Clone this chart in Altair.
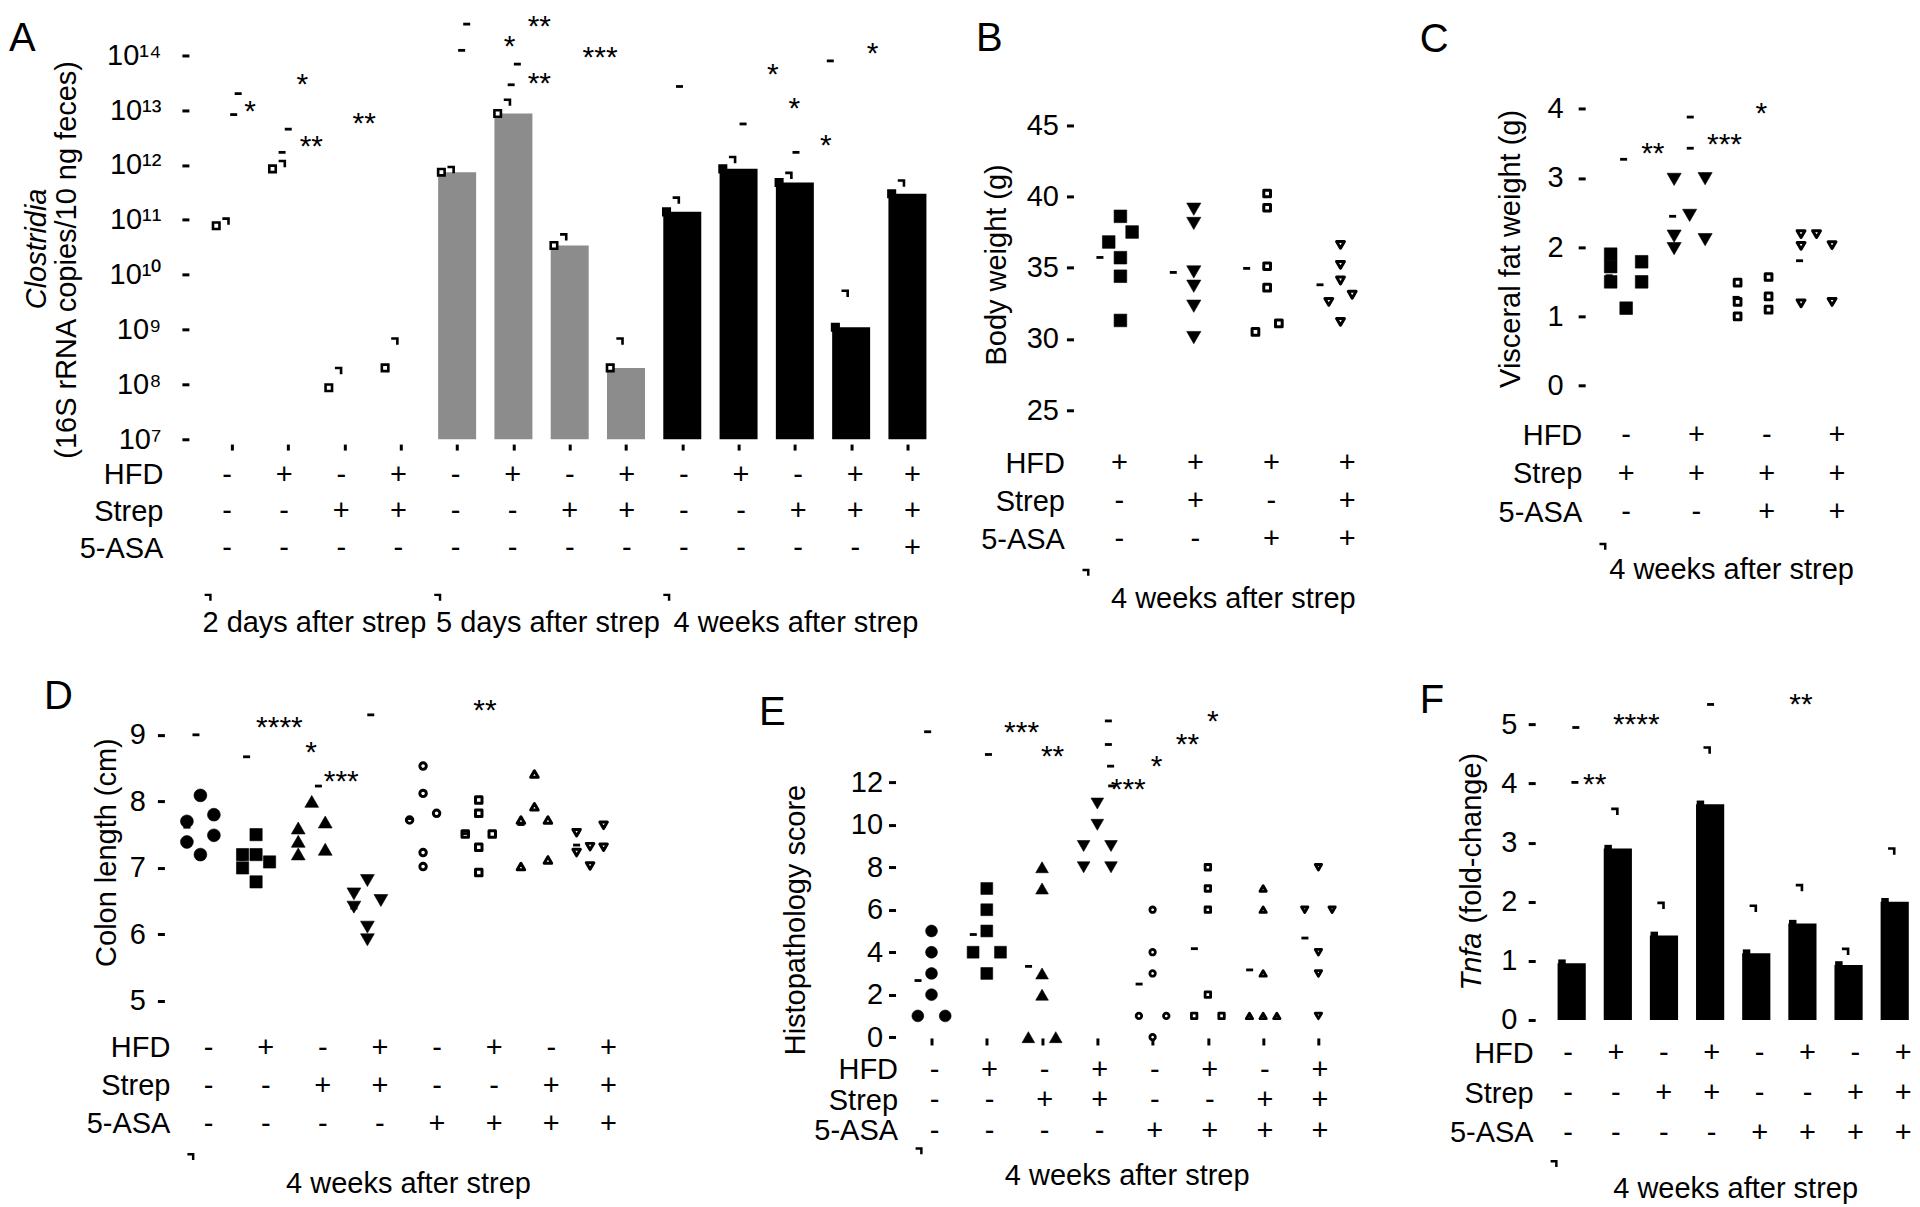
import altair as alt
import numpy as np
import pandas as pd

FONT = "Liberation Sans"
FS = 29
STAR_FS = 30
LETTER_FS = 40

DASH = "M-1,-0.4L1,-0.4L1,0.4L-1,0.4Z"
CAP = "M-1,-1L1,-1L1,1L0.3,1L0.3,-0.3L-1,-0.3Z"
ROW_EXPR = "['HFD','Strep','5-ASA'][datum.value]"

# ======================= DATA =======================
A_HFD = ["-", "+", "-", "+", "-", "+", "-", "+", "-", "+", "-", "+", "+"]
A_STREP = ["-", "-", "+", "+", "-", "-", "+", "+", "-", "-", "+", "+", "+"]
A_ASA = ["-", "-", "-", "-", "-", "-", "-", "-", "-", "-", "-", "-", "+"]
A_PERIOD = ["2 days after strep"] * 4 + ["5 days after strep"] * 4 + ["4 weeks after strep"] * 5
A_CAPTIONS = ["2 days after strep", "5 days after strep", "4 weeks after strep"]
A_MEAN = [7.8e10, 8.5e11, 8.7e7, 2.0e8, 7.4e11, 8.7e12, 3.4e10, 2.0e8, 1.4e11, 8.5e11, 4.8e11, 1.1e9, 3.0e11]
A_UPPER = [9.5e10, 1.07e12, 1.8e8, 6.2e8, 8.3e11, 1.4e13, 4.9e10, 6.2e8, 2.3e11, 1.26e12, 6.5e11, 4.6e9, 4.7e11]
A_DASH_X = [0.03, 0.11, 0.89, 1.00, 4.08, 4.17, 4.96, 5.07, 7.95, 9.08, 10.02, 10.63]
A_DASH_Y = [8.3e12, 2.0e13, 1.7e12, 4.5e12, 1.23e14, 3.7e14, 2.9e13, 6.9e13, 2.7e13, 5.6e12, 1.7e12, 7.9e13]
A_STAR_T = ["*", "*", "**", "**", "**", "*", "**", "***", "*", "*", "*", "*"]
A_STAR_X = [0.32, 1.25, 1.41, 2.35, 5.46, 4.93, 5.46, 6.54, 9.61, 9.99, 10.55, 11.38]
A_STAR_Y = [1.3e13, 4.0e13, 3.0e12, 7.8e12, 4.5e14, 1.95e14, 4.2e13, 1.23e14, 6.2e13, 1.45e13, 3.1e12, 1.5e14]

B_HFD = ["+", "+", "+", "+"]
B_STREP = ["-", "+", "-", "+"]
B_ASA = ["-", "-", "+", "+"]
B_VALUES = [[38.6, 37.5, 36.8, 35.7, 34.4, 31.3],
            [39.1, 38.1, 34.7, 33.7, 32.3, 30.1],
            [40.2, 39.2, 35.1, 33.6, 30.5, 31.1],
            [36.6, 35.2, 34.1, 33.1, 32.6, 31.2]]
B_LANES = [[0, 1, -1, 0, 0, 0], [0, 0, 0, 0, 0, 0], [0, 0, 0, 0, -1, 1], [0, 0, 0, 1, -1, 0]]

C_HFD = ["-", "+", "-", "+"]
C_STREP = ["+", "+", "+", "+"]
C_ASA = ["-", "-", "+", "+"]
C_VALUES = [[1.90, 1.72, 1.50, 1.79, 1.50, 1.12],
            [2.98, 2.99, 2.46, 2.16, 2.11, 1.98],
            [1.49, 1.21, 1.00, 1.57, 1.29, 1.10],
            [2.19, 2.19, 2.02, 2.03, 1.19, 1.21]]
C_LANES = [[-1, -1, -1, 1, 1, 0], [-1, 1, 0, -1, 1, -1], [-1, -1, -1, 1, 1, 1], [-1, 0, -1, 1, -1, 1]]
C_DASH_X = [-0.04, 1.01, 1.01]
C_DASH_Y = [3.27, 3.88, 3.43]
C_STAR_T = ["**", "***", "*"]
C_STAR_X = [0.42, 1.55, 2.13]
C_STAR_Y = [3.46, 3.59, 4.04]

HFD8 = ["-", "+", "-", "+", "-", "+", "-", "+"]
STREP8 = ["-", "-", "+", "+", "-", "-", "+", "+"]
ASA8 = ["-", "-", "-", "-", "+", "+", "+", "+"]

D_VALUES = [[7.70, 8.09, 7.80, 7.49, 7.39, 7.20],
            [7.20, 7.50, 7.20, 7.00, 7.09, 6.79],
            [7.60, 7.40, 7.21, 8.00, 7.69, 7.28],
            [6.61, 6.41, 6.81, 6.51, 6.11, 5.92],
            [8.53, 8.12, 7.72, 7.82, 7.23, 7.02],
            [8.02, 7.82, 7.51, 7.51, 7.31, 6.93],
            [8.41, 7.92, 7.72, 7.72, 7.12, 7.02],
            [7.53, 7.23, 7.32, 7.64, 7.31, 7.03]]
D_LANES = [[-1, 0, 1, 1, -1, 0], [-1, 0, 0, -1, 1, 0], [-1, -1, -1, 0, 1, 1], [-1, -1, 0, 1, 0, 0],
           [0, 0, -1, 1, 0, 0], [0, 0, -1, 1, 0, 0], [0, 0, -1, 1, 1, -1], [-1, -1, 0, 1, 1, 0]]
D_DASH_X = [-0.08, 0.83, 2.12, 3.06]
D_DASH_Y = [9.0, 8.67, 8.23, 9.30]
D_STAR_T = ["****", "*", "***", "**"]
D_STAR_X = [1.42, 1.99, 2.53, 5.11]
D_STAR_Y = [9.22, 8.85, 8.41, 9.48]

E_VALUES = [[5, 4, 3, 2, 1, 1], [7, 6, 5, 4, 4, 3], [8, 7, 3, 2, 0, 0], [11, 10, 9, 9, 8, 8],
            [6, 4, 3, 1, 1, 0], [8, 7, 6, 2, 1, 1], [7, 6, 3, 1, 1, 1], [8, 6, 6, 4, 3, 1]]
E_LANES = [[0, 0, 0, 0, -1, 1], [0, 0, 0, -1, 1, 0], [0, 0, 0, 0, -1, 1], [0, 0, -1, 1, -1, 1],
           [0, 0, 0, -1, 1, 0], [0, 0, 0, 0, -1, 1], [0, 0, 0, -1, 0, 1], [0, -1, 1, 0, 0, 0]]
E_DASH_X = [-0.07, 1.03, 3.20, 3.20, 3.24, 3.26]
E_DASH_Y = [14.38, 13.31, 14.89, 13.78, 12.76, 11.83]
E_STAR_T = ["***", "**", "***", "*", "**", "*"]
E_STAR_X = [1.63, 2.19, 3.56, 4.07, 4.63, 5.09]
E_STAR_Y = [14.72, 13.58, 12.03, 13.11, 14.13, 15.2]

F_MEAN = [0.96, 2.90, 1.43, 3.65, 1.13, 1.63, 0.93, 2.00]
F_UPPER = [None, 3.53, 1.94, 4.57, 1.89, 2.24, 1.16, 2.86]
F_DASH_X = [0.09, 0.07, 3.01]
F_DASH_Y = [4.95, 4.02, 5.34]
F_STAR_T = ["**", "****", "**"]
F_STAR_X = [0.50, 1.40, 4.97]
F_STAR_Y = [4.11, 5.12, 5.46]

# ======================= HELPERS =======================

def lin(domain, rng):
    return alt.Scale(domain=domain, range=rng, nice=False, zero=False)


def value_axis(values, pad, offset=0, label_expr=None, title=None, tx=0, ty=0,
               italic=False, align="center"):
    kw = dict(orient="left", values=values, domain=False, grid=False, ticks=True,
              tickSize=7, tickWidth=3, tickColor="black", labelPadding=pad,
              labelFont=FONT, labelFontSize=FS, labelColor="black", labelOverlap=False,
              offset=offset)
    if label_expr:
        kw["labelExpr"] = label_expr
    if title is None:
        kw["title"] = None
    else:
        kw.update(title=title, titleX=tx, titleY=ty, titleAngle=-90, titleAlign=align,
                  titleBaseline="alphabetic", titleFont=FONT, titleFontSize=FS,
                  titleFontWeight="normal", titleColor="black",
                  titleFontStyle="italic" if italic else "normal")
    return alt.Axis(**kw)


def title_axis(title, tx, ty, italic=False, align="center", offset=0, angle=-90, size=FS):
    return alt.Axis(orient="left", domain=False, grid=False, ticks=False, labels=False,
                    title=title, titleX=tx, titleY=ty, titleAngle=angle, titleAlign=align,
                    titleBaseline="alphabetic", titleFont=FONT, titleFontSize=size,
                    titleFontWeight="normal", titleFontStyle="italic" if italic else "normal",
                    titleColor="black", offset=offset)


def letter_axis(text, tx, ty, offset=0):
    return title_axis(text, tx, ty, align="left", angle=0, size=LETTER_FS, offset=offset)


def dash_layer(xs_, ys_, xvals, yvals, yaxis=None):
    df = pd.DataFrame({"x": xvals, "y": yvals})
    return alt.Chart(df).mark_point(shape=DASH, filled=True, size=49, color="black",
                                    strokeWidth=0, opacity=1).encode(
        x=alt.X("x:Q", scale=xs_, axis=None), y=alt.Y("y:Q", scale=ys_, axis=yaxis))


def star_layer(xs_, ys_, texts, xvals, yvals, yaxis=None):
    df = pd.DataFrame({"x": xvals, "y": yvals, "t": texts})
    return alt.Chart(df).mark_text(font=FONT, fontSize=STAR_FS, align="center",
                                   baseline="middle", dy=8, color="black").encode(
        x=alt.X("x:Q", scale=xs_, axis=None), y=alt.Y("y:Q", scale=ys_, axis=yaxis), text="t:N")


def table_layer(hfd, strep, asa, txr, tyr, pad, captions, cap_row, marks_x, mark_row, offset=0):
    n = len(hfd)
    recs = []
    for i in range(n):
        for r, col in enumerate((hfd, strep, asa)):
            recs.append({"g": i, "r": r, "s": col[i]})
    sdf = pd.DataFrame(recs)
    xs_ = lin([0, n - 1], txr)
    ys_ = lin([0, 2], tyr)
    signs = alt.Chart(sdf).mark_text(font=FONT, fontSize=FS, align="center", baseline="middle",
                                     color="black").encode(
        x=alt.X("g:Q", scale=xs_, axis=None),
        y=alt.Y("r:Q", scale=ys_, axis=alt.Axis(
            orient="left", values=[0, 1, 2], labelExpr=ROW_EXPR, domain=False, ticks=False,
            tickSize=0, grid=False, labelPadding=pad, labelFont=FONT, labelFontSize=FS,
            labelColor="black", labelOverlap=False, title=None, offset=offset)),
        text="s:N")
    cdf = pd.DataFrame({"x": [cx for _, cx in captions],
                        "r": [cap_row] * len(captions),
                        "t": [t for t, _ in captions]})
    cap = alt.Chart(cdf).mark_text(font=FONT, fontSize=FS, align="center", baseline="middle",
                                   color="black").encode(
        x=alt.X("x:Q", scale=xs_, axis=None), y=alt.Y("r:Q", scale=ys_, axis=None), text="t:N")
    mdf = pd.DataFrame({"x": marks_x, "r": [mark_row] * len(marks_x)})
    mk = alt.Chart(mdf).mark_point(shape=CAP, filled=True, size=49, color="black",
                                   strokeWidth=0, opacity=1).encode(
        x=alt.X("x:Q", scale=xs_, axis=None), y=alt.Y("r:Q", scale=ys_, axis=None))
    return alt.layer(signs, cap, mk).resolve_axis(x="independent", y="independent")


def scatter_points(values, lanes, styles, sizes, open_sw, lane_units, xs_, ys_, yaxis, xaxis=None):
    recs = []
    for g, (vals, ls) in enumerate(zip(values, lanes)):
        shape, filled = styles[g]
        for v, l in zip(vals, ls):
            recs.append({"x": g + l * lane_units, "v": v, "shape": shape,
                         "fill": "black" if filled else "white",
                         "size": sizes[(shape, filled)],
                         "sw": 0.6 if filled else open_sw})
    df = pd.DataFrame(recs)
    return alt.Chart(df).mark_point(filled=True, stroke="black", opacity=1,
                                    strokeJoin="round").encode(
        x=alt.X("x:Q", scale=xs_, axis=xaxis),
        y=alt.Y("v:Q", scale=ys_, axis=yaxis),
        shape=alt.Shape("shape:N", scale=None),
        fill=alt.Fill("fill:N", scale=None),
        size=alt.Size("size:Q", scale=None),
        strokeWidth=alt.StrokeWidth("sw:Q", scale=None))


def mean_layer(values, off_units, xs_, ys_, yaxis=None):
    df = pd.DataFrame({"x": [g + off_units for g in range(len(values))],
                       "y": [float(np.mean(v)) for v in values]})
    return alt.Chart(df).mark_point(shape=DASH, filled=True, size=49, color="black",
                                    strokeWidth=0, opacity=1).encode(
        x=alt.X("x:Q", scale=xs_, axis=None), y=alt.Y("y:Q", scale=ys_, axis=yaxis))


def panel(plot, table, w, h):
    return alt.layer(plot, table).resolve_scale(x="independent", y="independent").resolve_axis(
        x="independent", y="independent").properties(width=w, height=h)


STYLE4 = [("square", True), ("triangle-down", True), ("square", False), ("triangle-down", False)]
STYLE8 = [("circle", True), ("square", True), ("triangle-up", True), ("triangle-down", True),
          ("circle", False), ("square", False), ("triangle-up", False), ("triangle-down", False)]
SIZES_BC = {("square", True): 160, ("triangle-down", True): 200,
            ("square", False): 45, ("triangle-down", False): 62}
SIZES_D = {("circle", True): 165, ("square", True): 150, ("triangle-up", True): 190,
           ("triangle-down", True): 190, ("circle", False): 42, ("square", False): 42,
           ("triangle-up", False): 56, ("triangle-down", False): 56}
SIZES_E = {("circle", True): 140, ("square", True): 140, ("triangle-up", True): 160,
           ("triangle-down", True): 160, ("circle", False): 30, ("square", False): 30,
           ("triangle-up", False): 40, ("triangle-down", False): 40}

# column origins (plot-area left edges) : 188.5, 1073, 1585 ; row tops : 12, 684
W1, W2, W3 = 884.5, 512, 327
H1, H2 = 672, 515

# ======================= PANEL A =======================
A_XR, A_YR = [38.1, 723.9], [424, 39.8]
stepA = (A_XR[1] - A_XR[0]) / 12
xsA = lin([0, 12], A_XR)
ysA = alt.Scale(type="log", domain=[1e7, 1e14], range=A_YR, nice=False)
adf = pd.DataFrame({"g": list(range(13)), "mean": A_MEAN, "upper": A_UPPER, "period": A_PERIOD})
adf["xm"] = adf["g"] - 16 / stepA
adf["xc"] = adf["g"] - 6 / stepA
adf["bfill"] = adf["period"].map({"2 days after strep": "white", "5 days after strep": "#8c8c8c",
                                   "4 weeks after strep": "black"})
adf["mfill"] = np.where(adf["period"] == "4 weeks after strep", "black", "white")
SUP = "['10⁷','10⁸','10⁹','10¹⁰','10¹¹','10¹²','10¹³','10¹⁴'][round(log(datum.value)/LN10) - 7]"
A_bars = alt.Chart(adf[adf["period"] != "2 days after strep"]).mark_bar(width=38).encode(
    x=alt.X("g:Q", scale=xsA, axis=None),
    y=alt.Y("mean:Q", scale=ysA, axis=value_axis([10.0 ** k for k in range(7, 15)], 21,
                                                  label_expr=SUP,
                                                  title="(16S rRNA copies/10 ng  feces)",
                                                  tx=-113, ty=244)),
    y2=alt.datum(1e7),
    fill=alt.Fill("bfill:N", scale=None))
A_marks = alt.Chart(adf).mark_point(shape="square", filled=True, size=42, stroke="black",
                                    strokeWidth=2.6, opacity=1).encode(
    x=alt.X("xm:Q", scale=xsA, axis=alt.Axis(orient="bottom", values=list(range(13)), labels=False,
                                              domain=False, grid=False, ticks=True, tickSize=6,
                                              tickWidth=3, tickColor="black", offset=428.8 - H1,
                                              title=None)),
    y=alt.Y("mean:Q", scale=ysA, axis=letter_axis("A", -180.5, 35)),
    fill=alt.Fill("mfill:N", scale=None))
A_caps = alt.Chart(adf).mark_point(shape=CAP, filled=True, size=56, color="black", strokeWidth=0,
                                   opacity=1).encode(
    x=alt.X("xc:Q", scale=xsA, axis=None), y=alt.Y("upper:Q", scale=ysA, axis=None))
A_plot = alt.layer(
    A_bars, A_marks, A_caps,
    dash_layer(xsA, ysA, A_DASH_X, A_DASH_Y),
    star_layer(xsA, ysA, A_STAR_T, A_STAR_X, A_STAR_Y,
               yaxis=title_axis("Clostridia", -143.5, 233, italic=True)),
).resolve_axis(x="independent", y="independent")
# captions sit over their block of groups (slightly off the block centre, as in the figure)
A_caption_x = [float(np.mean([i for i, q in enumerate(A_PERIOD) if q == p])) for p in A_CAPTIONS]
A_caption_x = [A_caption_x[0] + 0.03, A_caption_x[1] + 0.12, A_caption_x[2] - 0.04]
A_table = table_layer(A_HFD, A_STREP, A_ASA, A_XR, [459.4, 533], 26,
                      list(zip(A_CAPTIONS, A_caption_x)), 4.04, [-0.33, 3.69, 7.70], 3.33)
panelA = panel(A_plot, A_table, W1, H1)

# ======================= PANEL B =======================
B_XR, B_YR = [47, 267.2], [395, 109.6]
xsB, ysB = lin([0, 3], B_XR), lin([25, 45], B_YR)
stepB = (B_XR[1] - B_XR[0]) / 3
B_plot = alt.layer(
    scatter_points(B_VALUES, B_LANES, STYLE4, SIZES_BC, 3.0, 11.7 / stepB, xsB, ysB,
                   value_axis([25, 30, 35, 40, 45], 8, title="Body weight (g)", tx=-68, ty=249)),
    mean_layer(B_VALUES, -20.5 / stepB, xsB, ysB, yaxis=letter_axis("B", -98, 35)),
).resolve_axis(x="independent", y="independent")
B_table = table_layer(B_HFD, B_STREP, B_ASA, [46, 274], [448, 524], 9,
                      [("4 weeks after strep", 1.5)], 3.58, [-0.44], 2.87)
panelB = panel(B_plot, B_table, W2, H1)

# ======================= PANEL C =======================
C_XR, C_YR = [41, 231.5], [370.4, 93.3]
xsC, ysC = lin([0, 3], C_XR), lin([0, 4], C_YR)
stepC = (C_XR[1] - C_XR[0]) / 3
C_plot = alt.layer(
    scatter_points(C_VALUES, C_LANES, STYLE4, SIZES_BC, 3.0, 15.5 / stepC, xsC, ysC,
                   value_axis([0, 1, 2, 3, 4], 15, title="Visceral fat weight (g)",
                              tx=-65.5, ty=233)),
    mean_layer(C_VALUES, -17 / stepC, xsC, ysC, yaxis=letter_axis("C", -166, 36)),
    dash_layer(xsC, ysC, C_DASH_X, C_DASH_Y),
    star_layer(xsC, ysC, C_STAR_T, C_STAR_X, C_STAR_Y),
).resolve_axis(x="independent", y="independent")
C_table = table_layer(C_HFD, C_STREP, C_ASA, [41, 252], [419.8, 497], 3.4,
                      [("4 weeks after strep", 1.5)], 3.50, [-0.33], 2.88)
panelC = panel(C_plot, C_table, W3, H1)

# ======================= PANEL D (origin x 188.5) =======================
D_XR, D_YR = [11.5, 401.4], [314, 47.7]
xsD, ysD = lin([0, 7], D_XR), lin([5, 9], D_YR)
stepD = (D_XR[1] - D_XR[0]) / 7
D_plot = alt.layer(
    scatter_points(D_VALUES, D_LANES, STYLE8, SIZES_D, 3.0, 13.5 / stepD, xsD, ysD,
                   value_axis([5, 6, 7, 8, 9], 12, offset=24.5, title="Colon length (cm)",
                              tx=-48.5, ty=165)),
    mean_layer(D_VALUES, -13.5 / stepD, xsD, ysD, yaxis=letter_axis("D", -145.5, 21)),
    dash_layer(xsD, ysD, D_DASH_X, D_DASH_Y),
    star_layer(xsD, ysD, D_STAR_T, D_STAR_X, D_STAR_Y),
).resolve_axis(x="independent", y="independent")
D_table = table_layer(HFD8, STREP8, ASA8, [19.7, 419.7], [361, 437], 19,
                      [("4 weeks after strep", 3.5)], 3.57, [-0.31], 2.86)
panelD = panel(D_plot, D_table, W1, H2)

# ======================= PANEL E (origin x 1073, axis at 895) =======================
E_OFF = 178
E_XR, E_YR = [-142, 245.1], [350.2, 95.2]
xsE, ysE = lin([0, 7], E_XR), lin([0, 12], E_YR)
stepE = (E_XR[1] - E_XR[0]) / 7
E_plot = alt.layer(
    scatter_points(E_VALUES, E_LANES, STYLE8, SIZES_E, 2.8, 13.7 / stepE, xsE, ysE,
                   value_axis([0, 2, 4, 6, 8, 10, 12], 6, offset=E_OFF,
                              title="Histopathology score", tx=-91.5, ty=232.5),
                   xaxis=alt.Axis(orient="bottom", values=list(range(8)), labels=False,
                                  domain=False, grid=False, ticks=True, tickSize=7, tickWidth=3,
                                  tickColor="black", offset=351 - H2, title=None)),
    mean_layer(E_VALUES, -13.5 / stepE, xsE, ysE, yaxis=letter_axis("E", -137, 37, offset=E_OFF)),
    dash_layer(xsE, ysE, E_DASH_X, E_DASH_Y),
    star_layer(xsE, ysE, E_STAR_T, E_STAR_X, E_STAR_Y),
).resolve_axis(x="independent", y="independent")
E_table = table_layer(HFD8, STREP8, ASA8, [-139, 246.6], [382.8, 444], -2,
                      [("4 weeks after strep", 3.5)], 3.49, [-0.28], 2.65, offset=E_OFF)
panelE = panel(E_plot, E_table, W2, H2)

# ======================= PANEL F (origin x 1585, axis at 1535) =======================
F_OFF = 50
F_XR, F_YR = [-18.5, 314.7], [332.9, 37.4]
xsF, ysF = lin([0, 7], F_XR), lin([0, 5], F_YR)
stepF = (F_XR[1] - F_XR[0]) / 7
fdf = pd.DataFrame({"g": list(range(8)), "mean": F_MEAN, "upper": F_UPPER})
fdf["xm"] = fdf["g"] - 10 / stepF
fdf["xc"] = fdf["g"] - 3 / stepF
F_bars = alt.Chart(fdf).mark_bar(width=28.2, color="black").encode(
    x=alt.X("g:Q", scale=xsF, axis=None),
    y=alt.Y("mean:Q", scale=ysF, axis=value_axis([0, 1, 2, 3, 4, 5], 11.3, offset=F_OFF,
                                                  title="(fold-change)", tx=-55, ty=236,
                                                  align="left")),
    y2=alt.datum(0))
F_bumps = alt.Chart(fdf).mark_point(shape="square", filled=True, size=56, color="black",
                                    strokeWidth=0, opacity=1).encode(
    x=alt.X("xm:Q", scale=xsF, axis=None),
    y=alt.Y("mean:Q", scale=ysF, axis=letter_axis("F", -116, 25, offset=F_OFF)))
F_caps = alt.Chart(fdf.dropna()).mark_point(shape=CAP, filled=True, size=56, color="black",
                                            strokeWidth=0, opacity=1).encode(
    x=alt.X("xc:Q", scale=xsF, axis=None), y=alt.Y("upper:Q", scale=ysF, axis=None))
F_plot = alt.layer(
    F_bars, F_bumps, F_caps,
    dash_layer(xsF, ysF, F_DASH_X, F_DASH_Y),
    star_layer(xsF, ysF, F_STAR_T, F_STAR_X, F_STAR_Y,
               yaxis=title_axis("Tnfa", -55, 303, italic=True, align="left", offset=F_OFF)),
).resolve_axis(x="independent", y="independent")
F_table = table_layer(HFD8, STREP8, ASA8, [-17.2, 318.3], [366.5, 446], 2,
                      [("4 weeks after strep", 3.5)], 3.41, [-0.29], 2.77, offset=F_OFF)
panelF = panel(F_plot, F_table, W3, H2)

# ======================= FIGURE =======================
chart = alt.concat(panelA, panelB, panelC, panelD, panelE, panelF, columns=3, spacing=0,
                   bounds="flush", align="each").properties(
    padding={"left": 0, "top": 3.2, "right": 0, "bottom": 0}
).configure(font=FONT, background="white").configure_view(stroke="transparent", strokeWidth=0)

chart.save("out.html", embed_options={"renderer": "svg", "actions": False})
